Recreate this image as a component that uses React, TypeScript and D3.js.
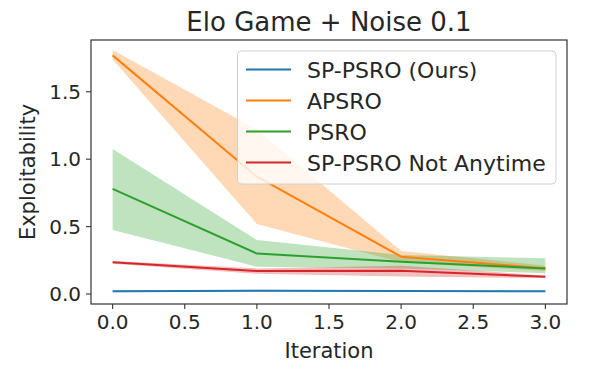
import React from "react";
import * as d3 from "d3";

// iterations on the x axis
const iterations = [0, 1, 2, 3];

// mean and band (lower / upper) per series
const spMean = [0.02, 0.025, 0.022, 0.02];
const spLow = [0.014, 0.018, 0.016, 0.015];
const spHigh = [0.026, 0.031, 0.028, 0.026];

const apsroMean = [1.77, 0.87, 0.277, 0.19];
const apsroLow = [1.74, 0.52, 0.235, 0.17];
const apsroHigh = [1.81, 1.22, 0.32, 0.21];

const psroMean = [0.78, 0.3, 0.24, 0.19];
const psroLow = [0.475, 0.203, 0.19, 0.154];
const psroHigh = [1.075, 0.4, 0.29, 0.265];

const notAnyMean = [0.235, 0.171, 0.173, 0.128];
const notAnyLow = [0.225, 0.15, 0.13, 0.118];
const notAnyHigh = [0.245, 0.19, 0.21, 0.138];

const xTicks = [0, 0.5, 1, 1.5, 2, 2.5, 3];
const yTicks = [0, 0.5, 1, 1.5];

const series = [
  { name: "SP-PSRO (Ours)", color: "#1f77b4", mean: spMean, low: spLow, high: spHigh },
  { name: "APSRO", color: "#ff7f0e", mean: apsroMean, low: apsroLow, high: apsroHigh },
  { name: "PSRO", color: "#2ca02c", mean: psroMean, low: psroLow, high: psroHigh },
  { name: "SP-PSRO Not Anytime", color: "#d62728", mean: notAnyMean, low: notAnyLow, high: notAnyHigh },
];

const W = 596;
const H = 373;
const left = 91;
const right = 567;
const top = 40;
const bottom = 304;
const font = "DejaVu Sans, sans-serif";

export default function App() {
  const x = d3.scaleLinear().domain([-0.15, 3.15]).range([left, right]);
  const y = d3.scaleLinear().domain([-0.074, 1.884]).range([bottom, top]);

  const line = d3
    .line<number>()
    .x((_, i) => x(iterations[i]))
    .y((d) => y(d));

  return (
    <svg
      width={W}
      height={H}
      style={{ position: "absolute", left: 0, top: 0, background: "#fff" }}
      fontFamily={font}
    >
      <defs>
        <clipPath id="plot">
          <rect x={left} y={top} width={right - left} height={bottom - top} />
        </clipPath>
      </defs>

      <g clipPath="url(#plot)">
        {series.map((s) => {
          const area = d3
            .area<number>()
            .x((_, i) => x(iterations[i]))
            .y0((_, i) => y(s.low[i]))
            .y1((_, i) => y(s.high[i]));
          return (
            <path key={s.name + "band"} d={area(s.mean) || ""} fill={s.color} fillOpacity={0.3} />
          );
        })}
        {series.map((s) => (
          <path
            key={s.name}
            d={line(s.mean) || ""}
            fill="none"
            stroke={s.color}
            strokeWidth={2}
            strokeLinejoin="round"
          />
        ))}
      </g>

      {/* frame */}
      <rect
        x={left}
        y={top}
        width={right - left}
        height={bottom - top}
        fill="none"
        stroke="#333"
        strokeWidth={1.2}
      />

      {/* x axis */}
      {xTicks.map((t) => (
        <g key={"x" + t}>
          <line x1={x(t)} x2={x(t)} y1={bottom} y2={bottom + 5} stroke="#333" strokeWidth={1.1} />
          <text x={x(t)} y={329} textAnchor="middle" fontSize={20} fill="#262626">
            {t.toFixed(1)}
          </text>
        </g>
      ))}
      <text x={(left + right) / 2} y={358} textAnchor="middle" fontSize={21} fill="#262626">
        Iteration
      </text>

      {/* y axis */}
      {yTicks.map((t) => (
        <g key={"y" + t}>
          <line x1={left - 5} x2={left} y1={y(t)} y2={y(t)} stroke="#333" strokeWidth={1.1} />
          <text x={81} y={y(t) + 7} textAnchor="end" fontSize={20} fill="#262626">
            {t.toFixed(1)}
          </text>
        </g>
      ))}
      <text
        transform={`translate(35, ${(top + bottom) / 2}) rotate(-90)`}
        textAnchor="middle"
        fontSize={21}
        fill="#262626"
      >
        Exploitability
      </text>

      {/* title */}
      <text x={(left + right) / 2} y={31} textAnchor="middle" fontSize={26} fill="#262626">
        Elo Game + Noise 0.1
      </text>

      {/* legend */}
      <rect
        x={237.5}
        y={51}
        width={318.5}
        height={133}
        rx={4}
        fill="#fff"
        fillOpacity={0.8}
        stroke="#d0d0d0"
        strokeWidth={1}
      />
      {series.map((s, i) => {
        const ly = 69.5 + i * 31;
        return (
          <g key={s.name + "leg"}>
            <line x1={246} x2={291} y1={ly} y2={ly} stroke={s.color} strokeWidth={2} />
            <text x={307} y={ly + 8.5} fontSize={22} fill="#262626">
              {s.name}
            </text>
          </g>
        );
      })}
    </svg>
  );
}
